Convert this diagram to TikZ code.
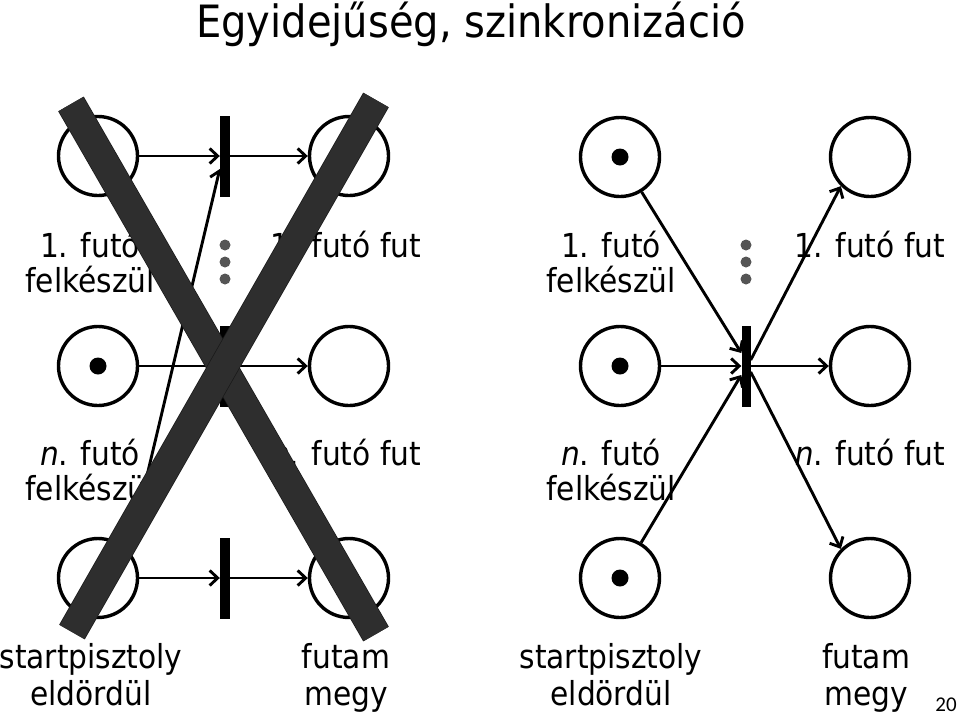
\documentclass[tikz,border=0pt]{standalone}
\usepackage{fontspec}
\setmainfont{DejaVu Sans Condensed}
\newfontfamily\numfont{Carlito}
\usetikzlibrary{arrows.meta,calc}
\definecolor{xgray}{HTML}{2E2E2E}
\definecolor{xedge}{HTML}{1A1A1A}
\definecolor{dotgray}{HTML}{555555}
\begin{document}
\begin{tikzpicture}[x=1pt,y=-1pt,
 place/.style={circle,draw,line width=3.4pt,minimum size=79pt,inner sep=0pt},
 trans/.style={fill=black,minimum width=10pt,minimum height=81pt,inner sep=0pt},
 token/.style={circle,fill=black,minimum size=17pt,inner sep=0pt},
 dotn/.style={circle,fill=dotgray,minimum size=11pt,inner sep=0pt},
 arc/.style={line width=2.9pt,-{Straight Barb[length=8pt,width=15pt]}},
 lbl/.style={anchor=base,inner sep=0pt,font=\fontsize{33}{36}\selectfont},
 xbar/.style={line width=28pt,draw=xgray},
 xbaredge/.style={line width=29.5pt,draw=xedge}
]
\useasboundingbox (0,0) rectangle (960,718);
\fill[white] (0,0) rectangle (960,718);

\node[anchor=base,inner sep=0pt,font=\fontsize{44.5}{52}\selectfont] (title) at (471,37) {Egyidejűség, szinkronizáció};
\node[anchor=base,inner sep=0pt,font=\numfont\fontsize{21}{25}\selectfont] (pg) at (946,711) {20};

% ---------- left net ----------
\node[place] (a1) at (98,156) {};
\node[place] (a2) at (98,366) {};
\node[token] (ta2) at (98,366) {};
\node[place] (a3) at (98,578) {};
\node[place] (b1) at (349,156) {};
\node[place] (b2) at (349,366) {};
\node[place] (b3) at (349,578) {};
\node[trans] (s1) at (225,156) {};
\node[trans] (s2) at (225,366) {};
\node[trans] (s3) at (225,578) {};

\draw[arc] (a1) -- (s1);
\draw[arc] (s1) -- (b1);
\draw[arc] (a2) -- (s2);
\draw[arc] (s2) -- (b2);
\draw[arc] (a3) -- (s3);
\draw[arc] (s3) -- (b3);
\draw[arc] (a3.41) -- ($(s1.west)+(0,13)$);

\node[dotn] (da1) at (225,245) {};
\node[dotn] (da2) at (225,262) {};
\node[dotn] (da3) at (225,279) {};

\node[lbl] (l1a) at (90,257) {1. futó};
\node[lbl] (l1b) at (90,292) {felkészül};
\node[lbl] (l2) at (346,257) {1. futó fut};
\node[lbl] (l3a) at (90,465) {\textit{n}. futó};
\node[lbl] (l3b) at (90,500) {felkészül};
\node[lbl] (l4) at (346,465) {\textit{n}. futó fut};
\node[lbl] (l5a) at (91,668) {startpisztoly};
\node[lbl] (l5b) at (91,705) {eldördül};
\node[lbl] (l6a) at (346,668) {futam};
\node[lbl] (l6b) at (346,705) {megy};

% big X
\coordinate (x1s) at (71,104);
\coordinate (x1e) at (376,634);
\coordinate (x2s) at (376,100);
\coordinate (x2e) at (72,632);
\draw[xbaredge] (x1s) -- (x1e);
\draw[xbar] (x1s) -- (x1e);
\draw[xbaredge] (x2s) -- (x2e);
\draw[xbar] (x2s) -- (x2e);

% ---------- right net ----------
\node[place] (c1) at (620,157) {};
\node[token] (tc1) at (620,157) {};
\node[place] (c2) at (620,366) {};
\node[token] (tc2) at (620,366) {};
\node[place] (c3) at (620,578) {};
\node[token] (tc3) at (620,578) {};
\node[place] (d1) at (870,157) {};
\node[place] (d2) at (870,366) {};
\node[place] (d3) at (870,578) {};
\node[trans,minimum width=9pt] (u) at (746,366) {};

\draw[arc] (c1) -- ($(u.west)+(0,-13)$);
\draw[arc] (c2) -- (u);
\draw[arc] (c3) -- ($(u.west)+(0,9)$);
\draw[arc] ($(u.east)+(0,-6)$) -- (d1.225);
\draw[arc] (u) -- (d2);
\draw[arc] ($(u.east)+(0,6)$) -- (d3.135);

\node[dotn] (db1) at (746,245) {};
\node[dotn] (db2) at (746,262) {};
\node[dotn] (db3) at (746,279) {};

\node[lbl] (r1a) at (611,257) {1. futó};
\node[lbl] (r1b) at (611,292) {felkészül};
\node[lbl] (r2) at (870,257) {1. futó fut};
\node[lbl] (r3a) at (611,465) {\textit{n}. futó};
\node[lbl] (r3b) at (611,500) {felkészül};
\node[lbl] (r4) at (870,465) {\textit{n}. futó fut};
\node[lbl] (r5a) at (611,668) {startpisztoly};
\node[lbl] (r5b) at (611,705) {eldördül};
\node[lbl] (r6a) at (866,668) {futam};
\node[lbl] (r6b) at (866,705) {megy};
\end{tikzpicture}
\end{document}
